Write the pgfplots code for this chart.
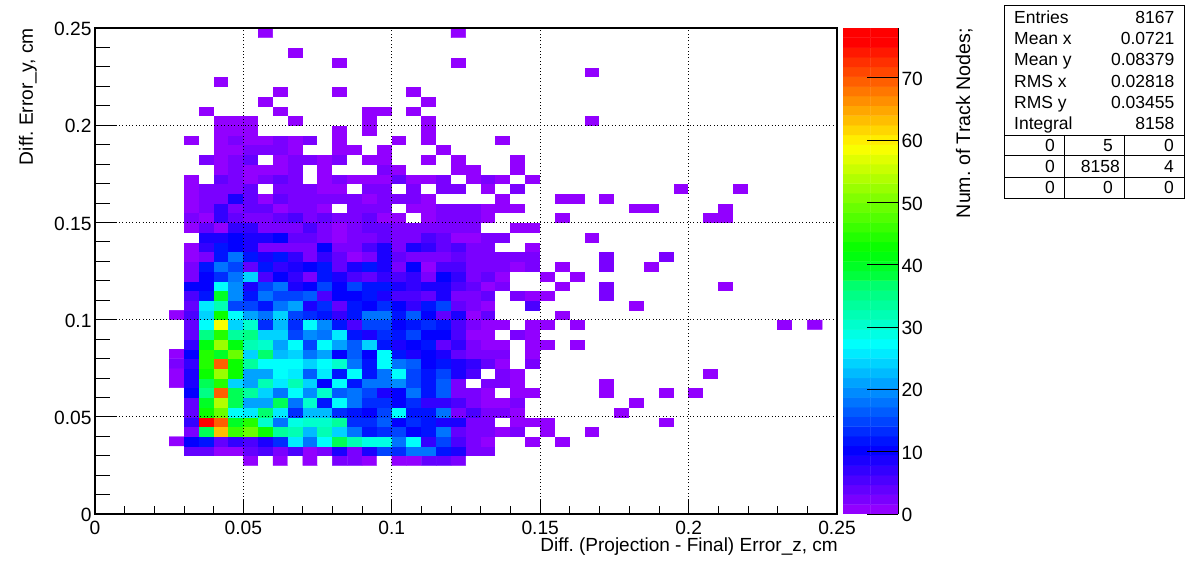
\documentclass[border=0pt]{standalone}
\usepackage{fontspec}
\setmainfont{Liberation Sans}
\usepackage{pgfplots}
\pgfplotsset{compat=1.18}
\frenchspacing

% ROOT palette 1: white for empty bins, then 50 hues (last one doubled for the top end)
\pgfplotsset{colormap={rootpal}{
  rgb255=(255,255,255)
  rgb255=(146,0,255) rgb255=(122,0,255) rgb255=(99,0,255) rgb255=(75,0,255) rgb255=(51,0,255)
  rgb255=(27,0,255) rgb255=(3,0,255) rgb255=(0,20,255) rgb255=(0,44,255) rgb255=(0,68,255)
  rgb255=(0,92,255) rgb255=(0,116,255) rgb255=(0,139,255) rgb255=(0,163,255) rgb255=(0,187,255)
  rgb255=(0,211,255) rgb255=(0,235,255) rgb255=(0,255,252) rgb255=(0,255,228) rgb255=(0,255,204)
  rgb255=(0,255,180) rgb255=(0,255,156) rgb255=(0,255,133) rgb255=(0,255,109) rgb255=(0,255,85)
  rgb255=(0,255,61) rgb255=(0,255,37) rgb255=(0,255,14) rgb255=(10,255,0) rgb255=(34,255,0)
  rgb255=(58,255,0) rgb255=(82,255,0) rgb255=(105,255,0) rgb255=(129,255,0) rgb255=(153,255,0)
  rgb255=(177,255,0) rgb255=(201,255,0) rgb255=(224,255,0) rgb255=(248,255,0) rgb255=(255,238,0)
  rgb255=(255,214,0) rgb255=(255,190,0) rgb255=(255,167,0) rgb255=(255,143,0) rgb255=(255,119,0)
  rgb255=(255,95,0) rgb255=(255,71,0) rgb255=(255,48,0) rgb255=(255,24,0) rgb255=(255,0,0)
  rgb255=(255,0,0)
}}

% one row of the histogram: y bin, then contents from x bin 5 on; the rest of the row is empty
\newcount\binx
\def\cells{}
\newcommand\cell[2]{%
  \xdef\cells{\cells(\the\numexpr5*\binx+2\relax.5e-3,\the\numexpr5*#1+2\relax.5e-3)[#2]}%
  \global\advance\binx by 1 }
\newcommand\binrow[2]{%
  \global\binx=5
  \foreach \v in {#2}{\cell{#1}{\ifnum\v=0 -1\else\v\fi}}%
  \loop\ifnum\binx<49 \cell{#1}{-1}\repeat}

\binrow{5}{0,0,0,0,0, 1,0,1,0,1, 0,2,2,1,0, 1,1,4,4,2}
\binrow{6}{0,4,4,1,1, 4,5,2,5,1, 2,8,2,8,14, 13,18,18,11,8, 2,2}
\binrow{7}{1,10,11,4,7, 5,9,13,25,18, 27,37,31,28,29, 18,27,7,14,5, 2,1,0,0,1, 0,1}
\binrow{8}{0,3,37,64,47, 50,44,33,31,22, 31,24,17,12,13, 14,10,12,17,4, 2,2,1,2,0, 1,0,0,1}
\binrow{9}{0,7,78,70,40, 45,30,17,28,30, 30,33,13,13,16, 10,13,11,9,8, 2,2,0,1,1, 1,0,0,0,0, 0,0,0,1}
\binrow{10}{0,4,43,49,27, 25,36,25,13,22, 22,13,11,10,14, 27,11,11,18,3, 5,2,2,1,0, 0,0,0,0,0, 1}
\binrow{11}{0,4,40,55,38, 21,21,38,17,30, 11,26,17,13,13, 10,13,7,7,5, 3,1,1,2,0, 0,0,0,0,0, 0,1}
\binrow{12}{0,10,35,70,38, 33,24,17,27,19, 30,16,17,14,9, 10,17,11,16,3, 3,1,0,1,1, 0,0,0,0,1, 0,0,0,1,0, 1}
\binrow{13}{1,8,38,45,24, 21,31,25,32,24, 10,27,11,17,17, 19,14,11,16,2, 0,2,2,1,0, 0,0,0,0,1}
\binrow{14}{1,8,44,52,44, 21,21,27,25,16, 25,12,27,12,17, 27,14,12,14,8, 5,0,2,1,0, 0,0,0,0,0, 0,0,0,0,0, 0,1}
\binrow{15}{2,7,45,70,44, 33,27,27,26,23, 27,30,17,11,27, 17,16,10,12,8, 7,4,1,0,2}
\binrow{16}{1,10,45,40,49, 24,36,22,23,17, 20,10,16,10,27, 12,8,10,8,4, 2,2,2,0,1}
\binrow{17}{0,7,42,52,42, 32,30,20,26,14, 26,20,16,23,11, 8,10,11,4,7, 2,1,1,0,1, 1,0,1}
\binrow{18}{0,4,35,45,33, 34,23,23,15,19, 17,25,11,9,13, 12,14,10,10,5, 1,1,0,3,1}
\binrow{19}{0,4,27,59,24, 30,13,22,13,27, 19,12,5,14,14, 10,12,13,11,5, 2,1,1,0,1, 1,0,1,0,0, 0,0,0,0,0, 0,0,0,0,0, 0,1,0,1}
\binrow{20}{1,5,23,44,27, 20,18,23,14,13, 11,7,11,17,18, 11,16,10,4,8, 1,4,0,0,0, 0,1}
\binrow{21}{0,4,25,32,15, 14,12,18,21,8, 13,4,11,10,13, 10,7,12,15,4, 3,1,0,0,5, 0,0,0,0,0, 0,1}
\binrow{22}{0,5,12,41,19, 11,18,14,15,16, 5,10,10,11,8, 5,5,4,8,2, 2,4,0,2,1, 1,0,0,0,3}
\binrow{23}{0,10,10,27,19, 9,14,17,9,10, 14,10,15,12,11, 8,7,8,8,5, 4,1,2,0,0, 0,1,0,0,3, 0,0,0,0,0, 0,0,1}
\binrow{24}{0,2,10,13,18, 23,5,10,7,3, 12,8,5,4,7, 5,7,3,10,7, 2,4,1,0,0, 1,0,1}
\binrow{25}{0,2,12,18,14, 4,11,7,8,10, 12,4,8,12,8, 3,10,1,5,5, 2,2,2,1,3, 0,1,0,0,3, 0,0,1}
\binrow{26}{0,1,3,11,17, 12,8,11,7,2, 7,4,1,3,8, 4,3,3,2,4, 3,2,2,2,3, 0,0,0,0,2, 0,0,0,3}
\binrow{27}{0,1,7,12,10, 8,3,3,3,2, 10,3,3,5,8, 2,8,7,4,6, 2,2,0,0,1}
\binrow{28}{0,0,8,8,10, 8,8,10,4,4, 3,1,2,3,4, 2,2,5,4,1, 1,2,2,0,0, 0,0,0,1}
\binrow{29}{0,1,4,1,7, 7,3,3,3,6, 3,1,2,4,4, 2,2,3,2,2, 2,0,0,1,1}
\binrow{30}{0,2,1,7,4, 3,3,4,6,2, 4,2,3,4,1, 1,0,1,2,2, 2,1,0,0,0, 0,1,0,0,0, 0,0,0,0,0, 0,1,1}
\binrow{31}{0,1,2,7,2, 4,4,1,2,2, 1,0,2,2,2, 0,1,1,2,2, 2,1,1,1,0, 0,0,0,0,0, 0,1,1,0,0, 0,0,1}
\binrow{32}{0,1,2,2,9, 4,1,4,2,2, 3,2,3,1,2, 2,2,1,0,0, 0,0,1,0,0, 0,1,1,0,1}
\binrow{33}{0,1,2,2,3, 4,0,2,2,3, 1,1,0,2,2, 0,2,0,2,2, 0,1,0,2,0, 0,0,0,0,0, 0,0,0,0,1, 0,0,0,1}
\binrow{34}{0,1,0,4,3, 1,2,4,3,0, 1,2,1,1,1, 4,1,1,3,0, 1,2,1,0,1}
\binrow{35}{0,0,0,1,2, 1,1,1,3,0, 1,0,0,0,2, 1,0,0,0,1, 1,0,0,1}
\binrow{36}{0,0,2,1,3, 4,0,1,2,2, 1,2,0,1,1, 0,0,1,0,1, 0,0,0,1}
\binrow{37}{0,0,0,1,1, 3,2,2,1,0, 0,1,1,0,1, 0,0,0,1}
\binrow{38}{0,1,0,1,2, 1,1,2,1,2, 0,1,0,0,0, 1,0,1,0,0, 0,0,1}
\binrow{39}{0,0,0,1,1, 1,0,0,0,0, 0,1,0,1,0, 0,0,1}
\binrow{40}{0,0,0,1,1, 1,0,0,1,0, 0,0,0,1,0, 0,0,1,0,0, 0,0,0,0,0, 0,0,0,1}
\binrow{41}{0,0,1,0,0, 0,0,1,0,0, 0,0,0,1,1, 0,1}
\binrow{42}{0,0,0,0,0, 0,1,0,0,0, 0,0,0,0,0, 0,0,1}
\binrow{43}{0,0,0,0,0, 0,0,1,0,0, 0,1,0,0,0, 0,1}
\binrow{44}{0,0,0,1}
\binrow{45}{0,0,0,0,0, 0,0,0,0,0, 0,0,0,0,0, 0,0,0,0,0, 0,0,0,0,0, 0,0,0,1}
\binrow{46}{0,0,0,0,0, 0,0,0,0,0, 0,1,0,0,0, 0,0,0,0,1}
\binrow{47}{0,0,0,0,0, 0,0,0,1}
\binrow{48}{0}
\binrow{49}{0,0,0,0,0, 0,1,0,0,0, 0,0,0,0,0, 0,0,0,0,1}

% palette strip: 50 bands of 1.56 counts, two cells wide
\def\strip{}
\foreach \k in {0,...,49}{%
  \pgfmathsetmacro\yc{(\k+0.5)*1.56}%
  \xdef\strip{\strip(0.25,\yc)(0.75,\yc)}}

\newcommand\lab{\fontsize{19.2}{19.2}\selectfont}
\newcommand\stat{\fontsize{17.5}{17.5}\selectfont}
\newcommand\statline[3]{%
  \node[anchor=base west,inner sep=0pt,font=\stat] at (1014,572-#1) {#2};
  \node[anchor=base east,inner sep=0pt,font=\stat] at (1174.5,572-#1) {#3};}
\newcommand\statcell[3]{\node[anchor=base east,inner sep=0pt,font=\stat] at (#1,572-#2) {#3};}

\pgfplotsset{
  frame/.style={
    at={(95pt,58pt)}, anchor=south west, scale only axis,
    width=742pt, height=486pt,
    xmin=0, xmax=0.25, ymin=0, ymax=0.25,
    axis line style={line width=2pt}, tick style={black,line width=0.8pt},
    tick align=inside,
    grid=major, major grid style={black,line width=1pt,dash pattern=on 1pt off 2.4pt},
    axis on top,
    scaled ticks=false,
    /pgf/number format/assume math mode=true,
    /pgf/number format/fixed,
    tick label style={font=\lab},
  },
}

\begin{document}
\begin{tikzpicture}[x=1pt,y=1pt]
\useasboundingbox (0,0) rectangle (1196,572);

% histogram, x axis
\begin{axis}[frame,
    xtick={0,0.05,0.1,0.15,0.2,0.25}, minor x tick num=4,
    ytick=\empty, xtick pos=bottom,
    major tick length=15pt, minor tick length=8pt,
    xticklabel style={yshift=-4pt},
    xlabel={Diff. (Projection - Final) Error\_z, cm},
    xlabel style={font=\fontsize{19}{19}\selectfont,at={(axis description cs:1,-0.0765)},anchor=base east,xshift=1pt,inner sep=0pt},
    colormap name=rootpal, colormap access=piecewise constant,
    point meta min=-1.56, point meta max=78,
]
\edef\drawcells{\noexpand\addplot[matrix plot*,mesh/cols=44,point meta=explicit] coordinates {\cells};}
\drawcells
\end{axis}

% y axis on top of it
\begin{axis}[frame,
    xtick=\empty,
    ytick={0,0.05,0.1,0.15,0.2,0.25}, minor y tick num=4, ytick pos=left,
    major tick length=22pt, minor tick length=15pt,
    yticklabel style={yshift=-1pt},
    ylabel={Diff. Error\_y, cm},
    ylabel style={font=\lab,at={(axis description cs:-0.0837,1)},anchor=base east,inner sep=0pt},
]
\end{axis}

% palette
\begin{axis}[
    at={(843pt,58pt)}, anchor=south west, scale only axis,
    width=55pt, height=486pt,
    xmin=0, xmax=1, ymin=0, ymax=78,
    hide x axis, axis y line*=right,
    axis line style={line width=0.8pt,-},
    ytick={0,10,...,70}, tick align=inside, major tick length=31pt,
    tick style={black,line width=0.8pt},
    axis on top,
    /pgf/number format/assume math mode=true,
    tick label style={font=\lab,yshift=-1pt},
    colormap name=rootpal, colormap access=piecewise constant,
    point meta min=-1.56, point meta max=78,
]
\edef\drawstrip{\noexpand\addplot[matrix plot*,mesh/cols=2,point meta=y] coordinates {\strip};}
\drawstrip
\end{axis}

\node[rotate=90,anchor=base east,inner sep=0pt,font=\fontsize{19.6}{19.6}\selectfont] at (970,544) {Num. of Track Nodes;};

% statistics box
\draw[line width=0.8pt,fill=white] (1004.5,572-5) rectangle (1184.5,572-198);
\draw[line width=0.8pt] (1004.5,572-135) -- (1184.5,572-135)
  (1004.5,572-155.5) -- (1184.5,572-155.5) (1004.5,572-177) -- (1184.5,572-177)
  (1064.5,572-135) -- (1064.5,572-198) (1124.5,572-135) -- (1124.5,572-198);
\statline{23.5}{Entries}{8167}
\statline{44.5}{Mean x}{0.0721}
\statline{66}{Mean y}{0.08379}
\statline{87.5}{RMS x}{0.02818}
\statline{108.5}{RMS y}{0.03455}
\statline{130}{Integral}{8158}
\statcell{1055}{151.5}{0}\statcell{1113}{151.5}{5}\statcell{1174}{151.5}{0}
\statcell{1055}{173}{0}\statcell{1120}{173}{8158}\statcell{1174}{173}{4}
\statcell{1055}{194}{0}\statcell{1113}{194}{0}\statcell{1174}{194}{0}
\end{tikzpicture}
\end{document}
